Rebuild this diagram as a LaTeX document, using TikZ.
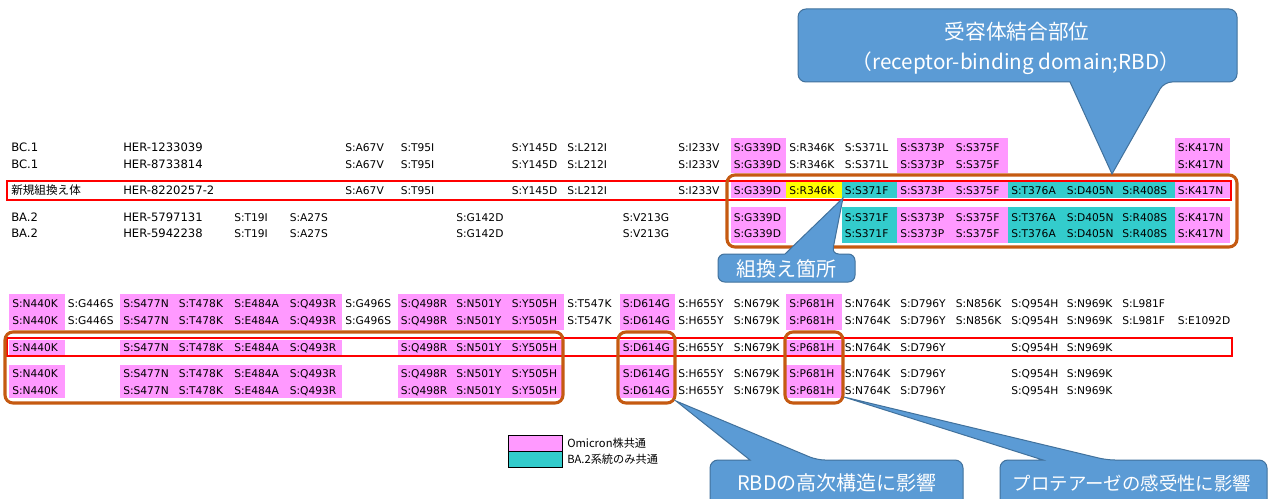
\documentclass[tikz,border=0pt]{standalone}
\usepackage{fontspec}
\setmainfont{DejaVu Sans}
\newfontfamily\jp{Noto Sans CJK JP}
\definecolor{omi}{RGB}{255,153,255}
\definecolor{ba}{RGB}{51,204,204}
\definecolor{ylw}{RGB}{255,255,0}
\definecolor{obox}{RGB}{197,90,17}
\definecolor{cfill}{RGB}{91,155,213}
\definecolor{cline}{RGB}{65,113,156}
\definecolor{rbox}{RGB}{255,0,0}
\newcommand\mrow[3]{\foreach \c/\t in {#3} {\node[mut] (m#1-\c) at ({12+55.5*\c},{#2+4}) {S:\t};}}
\newcommand\crow[4]{\foreach \c in {#4} {\fill[#1] ({9+55.5*\c},#2) rectangle ({64.5+55.5*\c},#3);}}
\begin{document}
\begin{tikzpicture}[x=0.75pt,y=-0.75pt,
  mut/.style={anchor=base west,inner sep=0pt,font=\fontsize{8}{9}\selectfont},
  lab/.style={anchor=base west,inner sep=0pt,font=\fontsize{8.7}{10}\selectfont},
  jlab/.style={anchor=base west,inner sep=0pt,font=\jp\fontsize{8.7}{10}\selectfont},
  redbox/.style={draw=rbox,line width=1.5pt},
  orbox/.style={draw=obox,line width=2.3pt,rounded corners=6pt},
  callout/.style={fill=cfill,draw=cline,line width=0.75pt},
  ctext/.style={text=white,inner sep=0pt,align=center},
  legtext/.style={anchor=west,inner sep=0pt,font=\jp\fontsize{8.4}{10}\selectfont}]
\useasboundingbox (0,0) rectangle (1271,499);
\clip (0,0) rectangle (1271,499);
\fill[white] (0,0) rectangle (1271,499);
% ---- top table fills
\crow{omi}{138}{173.5}{13,16,17,21}
\crow{omi}{182.5}{198.5}{13,16,17,21}
\crow{ylw}{182.5}{198.5}{14}
\crow{ba}{182.5}{198.5}{15,18,19,20}
\crow{omi}{207}{243}{13,16,17,21}
\crow{ba}{207}{243}{15,18,19,20}
% ---- bottom table fills
\crow{omi}{294}{329.5}{0,2,3,4,5,7,8,9,11,14}
\crow{omi}{339.5}{355}{0,2,3,4,5,7,8,9,11,14}
\crow{omi}{364.5}{398}{0,2,3,4,5,7,8,9,11,14}
% ---- top table labels
\node[lab] (nA) at (11,152) {BC.1};
\node[lab] (hA) at (123,152) {HER-1233039};
\node[lab] (nB) at (11,168.5) {BC.1};
\node[lab] (hB) at (123,168.5) {HER-8733814};
\node[jlab] (nC) at (11,194.5) {新規組換え体};
\node[lab] (hC) at (123,194.5) {HER-8220257-2};
\node[lab] (nD) at (11,221) {BA.2};
\node[lab] (hD) at (123,221) {HER-5797131};
\node[lab] (nE) at (11,238) {BA.2};
\node[lab] (hE) at (123,238) {HER-5942238};
% ---- top table mutations
\mrow{A}{148}{6/A67V,7/T95I,9/Y145D,10/L212I,12/I233V,13/G339D,14/R346K,15/S371L,16/S373P,17/S375F,21/K417N}
\mrow{B}{164.5}{6/A67V,7/T95I,9/Y145D,10/L212I,12/I233V,13/G339D,14/R346K,15/S371L,16/S373P,17/S375F,21/K417N}
\mrow{C}{190.5}{6/A67V,7/T95I,9/Y145D,10/L212I,12/I233V,13/G339D,14/R346K,15/S371F,16/S373P,17/S375F,18/T376A,19/D405N,20/R408S,21/K417N}
\mrow{D}{217}{4/T19I,5/A27S,8/G142D,11/V213G,13/G339D,15/S371F,16/S373P,17/S375F,18/T376A,19/D405N,20/R408S,21/K417N}
\mrow{E}{234}{4/T19I,5/A27S,8/G142D,11/V213G,13/G339D,15/S371F,16/S373P,17/S375F,18/T376A,19/D405N,20/R408S,21/K417N}
% ---- bottom table mutations
\mrow{F}{303}{0/N440K,1/G446S,2/S477N,3/T478K,4/E484A,5/Q493R,6/G496S,7/Q498R,8/N501Y,9/Y505H,10/T547K,11/D614G,12/H655Y,13/N679K,14/P681H,15/N764K,16/D796Y,17/N856K,18/Q954H,19/N969K,20/L981F}
\mrow{G}{320}{0/N440K,1/G446S,2/S477N,3/T478K,4/E484A,5/Q493R,6/G496S,7/Q498R,8/N501Y,9/Y505H,10/T547K,11/D614G,12/H655Y,13/N679K,14/P681H,15/N764K,16/D796Y,17/N856K,18/Q954H,19/N969K,20/L981F,21/E1092D}
\mrow{H}{347}{0/N440K,2/S477N,3/T478K,4/E484A,5/Q493R,7/Q498R,8/N501Y,9/Y505H,11/D614G,12/H655Y,13/N679K,14/P681H,15/N764K,16/D796Y,18/Q954H,19/N969K}
\mrow{I}{373.5}{0/N440K,2/S477N,3/T478K,4/E484A,5/Q493R,7/Q498R,8/N501Y,9/Y505H,11/D614G,12/H655Y,13/N679K,14/P681H,15/N764K,16/D796Y,18/Q954H,19/N969K}
\mrow{J}{390.5}{0/N440K,2/S477N,3/T478K,4/E484A,5/Q493R,7/Q498R,8/N501Y,9/Y505H,11/D614G,12/H655Y,13/N679K,14/P681H,15/N764K,16/D796Y,18/Q954H,19/N969K}
% ---- red boxes
\draw[redbox] (7,181) rectangle (1231,200);
\draw[redbox] (7,338) rectangle (1232,356);
% ---- orange boxes
\draw[orbox] (727,175) rectangle (1237,247);
\draw[orbox] (5,332) rectangle (563,403);
\draw[orbox] (618,332) rectangle (675,403);
\draw[orbox] (785,332) rectangle (843,403);
% ---- legend
\draw[fill=omi,line width=0.75pt] (508,435) rectangle (562,451);
\draw[fill=ba,line width=0.75pt] (508,451) rectangle (562,467);
\node[legtext] (lg1) at (567,443) {Omicron株共通};
\node[legtext] (lg2) at (567,459.5) {BA.2系統のみ共通};
% ---- callouts
\path[callout] (1070,82) [rounded corners=6pt] -- (798,82) -- (798,9) -- (1237,9) -- (1237,82) -- (1164,82) [sharp corners] -- (1112,174) -- cycle;
\node[ctext,font=\jp\fontsize{15.5}{18}\selectfont] (c1a) at (1017,32) {受容体結合部位};
\node[ctext,font=\jp\fontsize{15.5}{18}\selectfont] (c1b) at (1016,63) {（receptor-binding domain;RBD）};
\path[callout] (785,254) [rounded corners=5pt] -- (718,254) -- (718,282) -- (855,282) -- (855,254) -- (832,254) [sharp corners] -- (843,198) -- cycle;
\node[ctext,font=\jp\fontsize{15}{18}\selectfont] (c2) at (786,269) {組換え箇所};
\path[callout] (750,460) [rounded corners=6pt] -- (710,460) -- (710,520) -- (963,520) -- (963,460) -- (817,460) [sharp corners] -- (676,401) -- cycle;
\node[ctext,font=\jp\fontsize{15}{18}\selectfont] (c3) at (837,483) {RBDの高次構造に影響};
\path[callout] (1043,460) [rounded corners=6pt] -- (1000,460) -- (1000,520) -- (1267,520) -- (1267,460) -- (1107,460) [sharp corners] -- (844,397) -- cycle;
\node[ctext,font=\jp\fontsize{13.8}{18}\selectfont] (c4) at (1132,483) {プロテアーゼの感受性に影響};
\end{tikzpicture}
\end{document}
